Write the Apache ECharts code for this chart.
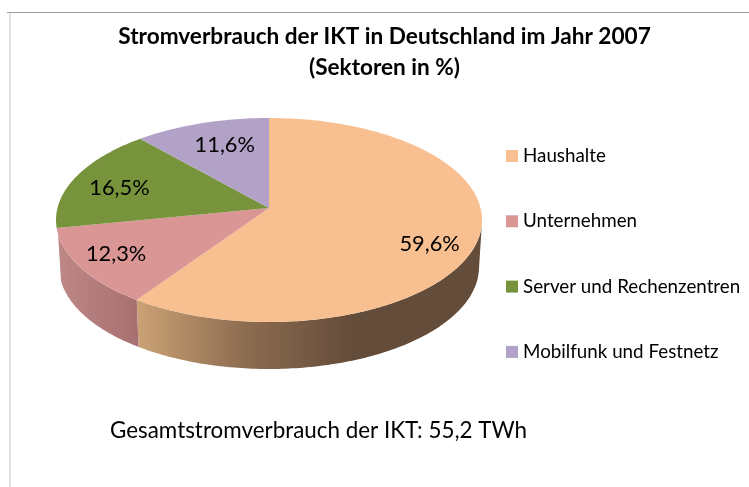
<!DOCTYPE html>
<html>
<head>
<meta charset="utf-8">
<title>Stromverbrauch der IKT</title>
<style>
    html, body { margin: 0; padding: 0; background: #fff; }
    #chart { width: 749px; height: 487px; }
</style>
</head>
<body>
<div id="chart"></div>
<script src="https://cdn.jsdelivr.net/npm/echarts@6/dist/echarts.min.js"></script>
<script>
    var sectors = ['Haushalte', 'Unternehmen', 'Server und Rechenzentren', 'Mobilfunk und Festnetz'];
    var shares = [59.6, 12.3, 16.5, 11.6];
    var topColors = ['#F8C090', '#D99694', '#77933C', '#B3A2C7'];

    // seitenwand: farbverlauf in x-richtung [x0, x1, stops]
    var wallShades = [
        [137, 352, ['#CBA275', '#8D6C50', '#644C3A']],
        [58, 137, ['#BE8887', '#A97071']],
        [0, 1, ['#5F7530', '#5F7530']],
        [0, 1, ['#8F82A0', '#8F82A0']]
    ];
    // feinkorrektur der beschriftung in px
    var labelNudge = [[2, 12], [-14, 2], [8, 5], [15, 11]];

    // 3d-torte: obere ellipse, untere ellipse, spitze liegt durch die perspektive oberhalb der mitte
    var top3d = {cx: 269, cy: 220, rx: 213, ry: 102};
    var bottom3d = {cx: 269, cy: 267, rx: 210, ry: 102};
    var apexShift = 0.118;
    var wallFrom = 92, wallTo = 262;
    var RAD = Math.PI / 180;

    function sum(arr, n) {
        var s = 0;
        for (var i = 0; i < n; i++) s += arr[i];
        return s;
    }

    // winkel im tortenstueck -> winkel auf dem rand (strahl von der spitze zum einheitskreis)
    function rimAngle(deg) {
        var sx = Math.sin(deg * RAD), sy = Math.cos(deg * RAD);
        var dot = apexShift * sy;
        var t = -dot + Math.sqrt(dot * dot + 1 - apexShift * apexShift);
        var a = Math.atan2(sx * t, apexShift + sy * t) / RAD;
        if (a < 0) a += 360;
        return deg >= 360 ? 360 : a;
    }

    function onEllipse(e, phi) {
        return [e.cx + e.rx * Math.sin(phi * RAD), e.cy - e.ry * Math.cos(phi * RAD)];
    }

    function arcPoints(e, from, to) {
        var pts = [];
        var steps = Math.max(2, Math.ceil(Math.abs(to - from)));
        for (var i = 0; i <= steps; i++) {
            pts.push(onEllipse(e, from + (to - from) * i / steps));
        }
        return pts;
    }

    function renderSlice(idx) {
        return function (params, api) {
            var value = api.value(0);
            var total = sum(shares, shares.length);
            var startDeg = sum(shares, idx) / total * 360;
            var endDeg = startDeg + value / total * 360;
            var phi0 = rimAngle(startDeg), phi1 = rimAngle(endDeg);
            var apex = [top3d.cx, top3d.cy - apexShift * top3d.ry];
            var children = [];

            var w0 = Math.max(phi0, wallFrom), w1 = Math.min(phi1, wallTo);
            if (w1 > w0) {
                var shade = wallShades[idx];
                var stops = shade[2].map(function (c, i) {
                    return {offset: i / (shade[2].length - 1), color: c};
                });
                children.push({
                    type: 'polygon',
                    shape: {points: arcPoints(top3d, w0, w1).concat(arcPoints(bottom3d, w1, w0))},
                    style: {fill: new echarts.graphic.LinearGradient(shade[0], 0, shade[1], 0, stops, true)}
                });
            }

            children.push({
                type: 'polygon',
                shape: {points: [apex].concat(arcPoints(top3d, phi0, phi1))},
                style: {fill: topColors[idx]}
            });

            var mid = (startDeg + endDeg) / 2;
            var lx = 0.78 * Math.sin(mid * RAD);
            var ly = apexShift + 0.78 * Math.cos(mid * RAD);
            children.push({
                type: 'text',
                z2: 10,
                style: {
                    x: top3d.cx + lx * top3d.rx + labelNudge[idx][0],
                    y: top3d.cy - ly * top3d.ry + labelNudge[idx][1],
                    text: value.toFixed(1).replace('.', ',') + '%',
                    fill: '#000',
                    font: '21.8px Lato',
                    textAlign: 'center',
                    textVerticalAlign: 'middle'
                }
            });
            return {type: 'group', children: children};
        };
    }

    var chart = echarts.init(document.getElementById('chart'));
    var series = sectors.map(function (name, i) {
        return {
            type: 'custom',
            name: name,
            coordinateSystem: 'none',
            silent: true,
            renderItem: renderSlice(i),
            itemStyle: {color: topColors[i]},
            data: [[shares[i]]]
        };
    });

    chart.setOption({
        animation: false,
        backgroundColor: '#fff',
        title: [{
            text: 'Stromverbrauch der IKT in Deutschland im Jahr 2007\n(Sektoren in %)',
            left: 379.5,
            top: 16,
            textAlign: 'center',
            textStyle: {fontFamily: 'Lato', fontSize: 22.6, fontWeight: 'bold', color: '#000', lineHeight: 31}
        }, {
            text: 'Gesamtstromverbrauch der IKT: 55,2 TWh',
            left: 105,
            top: 415,
            textStyle: {fontFamily: 'Lato', fontSize: 22.4, fontWeight: 'normal', color: '#000'}
        }],
        legend: {
            orient: 'vertical',
            left: 501,
            top: 141,
            icon: 'rect',
            itemWidth: 12,
            itemHeight: 12,
            itemGap: 45.3,
            selectedMode: false,
            data: sectors,
            textStyle: {fontFamily: 'Lato', fontSize: 18.8, color: '#000', padding: [0, 0, 0, 0], lineHeight: 20}
        },
        graphic: [
            {type: 'line', shape: {x1: 7, y1: 12.5, x2: 749, y2: 12.5}, style: {stroke: '#A0A0A0', lineWidth: 1}},
            {type: 'line', shape: {x1: 10, y1: 13, x2: 10, y2: 487}, style: {stroke: '#D9D9D9', lineWidth: 1.5}}
        ],
        series: series
    });
</script>
</body>
</html>
